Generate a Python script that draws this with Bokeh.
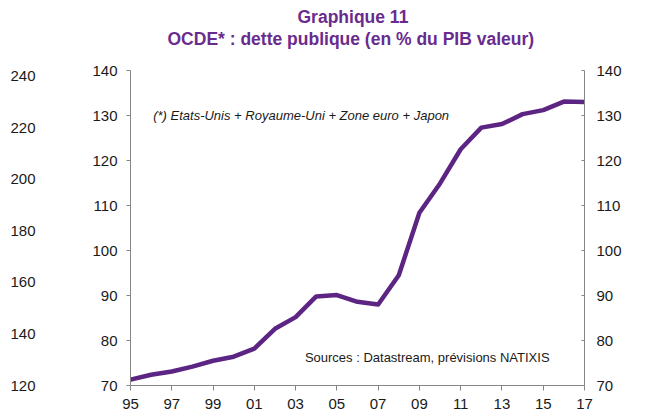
from bokeh.plotting import figure
from bokeh.models import LinearAxis, Range1d, Title, Label, FixedTicker
from bokeh.embed import file_html
from bokeh.resources import INLINE

# ---- data ----
years = list(range(1995, 2018))
debt = [71.3, 72.4, 73.1, 74.2, 75.5, 76.4, 78.2, 82.6, 85.2, 89.8,
        90.1, 88.6, 88.0, 94.5, 108.4, 114.9, 122.5, 127.3, 128.1, 130.3,
        131.2, 133.1, 133.0]
x_ticks = list(range(1995, 2018, 2))
x_tick_labels = {y: f"{y % 100:02d}" for y in x_ticks}
y_ticks = [70, 80, 90, 100, 110, 120, 130, 140]
ghost_ticks = [120, 140, 160, 180, 200, 220, 240]

title1 = "Graphique 11"
title2 = "OCDE* : dette publique (en % du PIB valeur)"
note = "(*) Etats-Unis + Royaume-Uni + Zone euro + Japon"
source = "Sources : Datastream, prévisions NATIXIS"

PURPLE_LINE = "#5C2483"
PURPLE_TITLE = "#6A2B8E"
FONT = "Liberation Sans"

p = figure(width=645, height=417, output_backend="svg", toolbar_location=None,
           x_range=Range1d(1995, 2017), y_range=Range1d(70, 140),
           min_border_left=130, min_border_right=61, min_border_top=70,
           min_border_bottom=32, y_axis_location=None, x_axis_location=None)
p.outline_line_color = None
p.xgrid.visible = False
p.ygrid.visible = False
p.background_fill_color = "white"
p.border_fill_color = "white"

p.extra_y_ranges = {"ghost": Range1d(120, 242.3)}

# titles (added closest-first)
spacer = Title(text=" ", text_font_size="18px", standoff=0)
t2 = Title(text=title2, align="left", text_color=PURPLE_TITLE, text_font=FONT,
           text_font_size="17.5px", text_font_style="bold", offset=37, standoff=0)
t1 = Title(text=title1, align="left", text_color=PURPLE_TITLE, text_font=FONT,
           text_font_size="17.5px", text_font_style="bold", offset=167, standoff=0)
p.add_layout(spacer, "above")
p.add_layout(t2, "above")
p.add_layout(t1, "above")

def style_axis(ax):
    ax.axis_line_color = "#868686"
    ax.major_tick_line_color = "#868686"
    ax.minor_tick_line_color = None
    ax.major_label_text_font = FONT
    ax.major_label_text_font_size = "15px"
    ax.major_label_text_color = "#1a1a1a"

# bottom axis
xa = LinearAxis(ticker=FixedTicker(ticks=x_ticks), major_label_overrides=x_tick_labels)
style_axis(xa)
xa.major_tick_in = 0
xa.major_tick_out = 5
xa.major_label_standoff = 8
p.add_layout(xa, "below")

# left main axis
ya = LinearAxis(ticker=FixedTicker(ticks=y_ticks))
style_axis(ya)
ya.major_tick_in = 0
ya.major_tick_out = 4
ya.major_label_standoff = 9
p.add_layout(ya, "left")

# ghost axis (cropped neighbouring chart)
ga = LinearAxis(y_range_name="ghost", ticker=FixedTicker(ticks=ghost_ticks))
style_axis(ga)
ga.axis_line_color = None
ga.major_tick_line_color = None
ga.major_label_standoff = 48
p.add_layout(ga, "left")

# right axis
ra = LinearAxis(ticker=FixedTicker(ticks=y_ticks))
style_axis(ra)
ra.major_tick_in = 3
ra.major_tick_out = 0
ra.major_label_standoff = 12
p.add_layout(ra, "right")

p.line(years, debt, line_color=PURPLE_LINE, line_width=4.5, line_join="round")

p.add_layout(Label(x=1996.1, y=130.0, text=note, text_font=FONT, text_font_size="13px",
                   text_font_style="italic", text_baseline="middle", text_color="#1a1a1a"))
p.add_layout(Label(x=2003.45, y=76.2, text=source, text_font=FONT, text_font_size="13px",
                   text_baseline="middle", text_color="#1a1a1a"))

open("out.html", "w").write(file_html(p, INLINE))
